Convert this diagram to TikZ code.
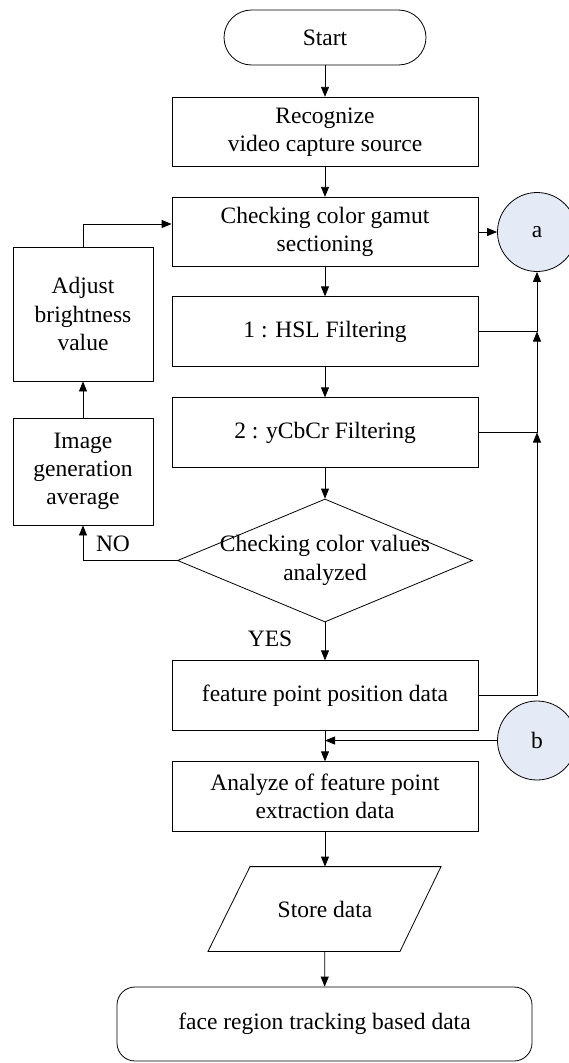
\documentclass[tikz,border=0pt]{standalone}
\usepackage{fontspec}
\setmainfont{Liberation Serif}
\usetikzlibrary{arrows.meta,shapes.geometric,calc}
\definecolor{connfill}{RGB}{229,235,246}
\begin{document}
\begin{tikzpicture}[x=1pt,y=-1pt,
  font=\fontsize{23.5}{28.3}\selectfont,
  line width=0.8pt,
  box/.style={draw, align=center, inner sep=0pt},
  mainbox/.style={box, minimum width=306pt, minimum height=69.5pt},
  sidebox/.style={box, minimum width=140pt},
  conn/.style={draw, circle, fill=connfill, minimum size=79pt, inner sep=0pt},
  flow/.style={-{Triangle[length=10pt,width=8pt]}},
]
\useasboundingbox (0,0) rectangle (569,1063);

% main column
\node[box, rounded corners=27.5pt, minimum width=202pt, minimum height=55pt] (start) at (325,37.5) {Start};
\node[mainbox] (rec)  at (325,132)   {Recognize\\video capture source};
\node[mainbox] (chk)  at (325,232)   {Checking color gamut\\sectioning};
\node[mainbox] (hsl)  at (325,331.5) {1 : HSL Filtering};
\node[mainbox] (ycc)  at (325,432.5) {2 : yCbCr Filtering};
\node[draw, diamond, minimum width=295pt, minimum height=123pt, inner sep=0pt] (dec) at (325,560.5) {};
\node[align=center] (dectext) at (dec.center) {Checking color values\\analyzed};
\node[mainbox] (feat) at (325,695.5) {feature point position data};
\node[mainbox] (ana)  at (325,796.5) {Analyze of feature point\\extraction data};
\node[minimum width=192pt, minimum height=84pt, inner sep=0pt] (store) at (325,909) {Store data};
\draw ([xshift=-117pt]store.south) -- ([xshift=75pt]store.south)
   -- ([xshift=116pt]store.north) -- ([xshift=-75pt]store.north) -- cycle;
\node[box, rounded corners=18pt, minimum width=415pt, minimum height=74pt] (face) at (324.5,1024) {face region tracking based data};

% side boxes
\node[sidebox, minimum height=134pt] (adj) at (83,314)   {Adjust\\brightness\\value};
\node[sidebox, minimum height=107pt] (img) at (83,471.5) {Image\\generation\\average};

% off-page connectors
\node[conn] (a) at (537,232) {a};
\node[conn] (b) at (537,740.5) {b};

% main flow
\draw[flow] (start) -- (rec);
\draw[flow] (rec) -- (chk);
\draw[flow] (chk) -- (hsl);
\draw[flow] (hsl) -- (ycc);
\draw[flow] (ycc) -- (dec);
\draw[flow] (dec.south) -- (feat);
\node (yes) at (270,639) {YES};
\draw[flow] (feat) -- (ana);
\draw[flow] (ana) -- (store);
\draw[flow] (store) -- (face);

% branches towards connector a
\coordinate (j1) at (537,331.5);
\coordinate (j2) at (537,432.5);
\draw[flow] (chk.east) -- (a.west);
\draw (hsl.east) -- (j1);
\draw (ycc.east) -- (j2);
\draw[flow] (feat.east) -| (j2);
\draw[flow] (j2) -- (j1);
\draw[flow] (j1) -- (a.south);

% connector b joins the main flow
\coordinate (j3) at (325,740.5);
\draw[flow] (b.west) -- (j3);

% NO loop
\draw[flow] (dec.west) -| (img.south);
\node (no) at (113,544) {NO};
\draw[flow] (img) -- (adj);
\draw[flow] (adj.north) |- ([yshift=8pt]chk.west);
\end{tikzpicture}
\end{document}
